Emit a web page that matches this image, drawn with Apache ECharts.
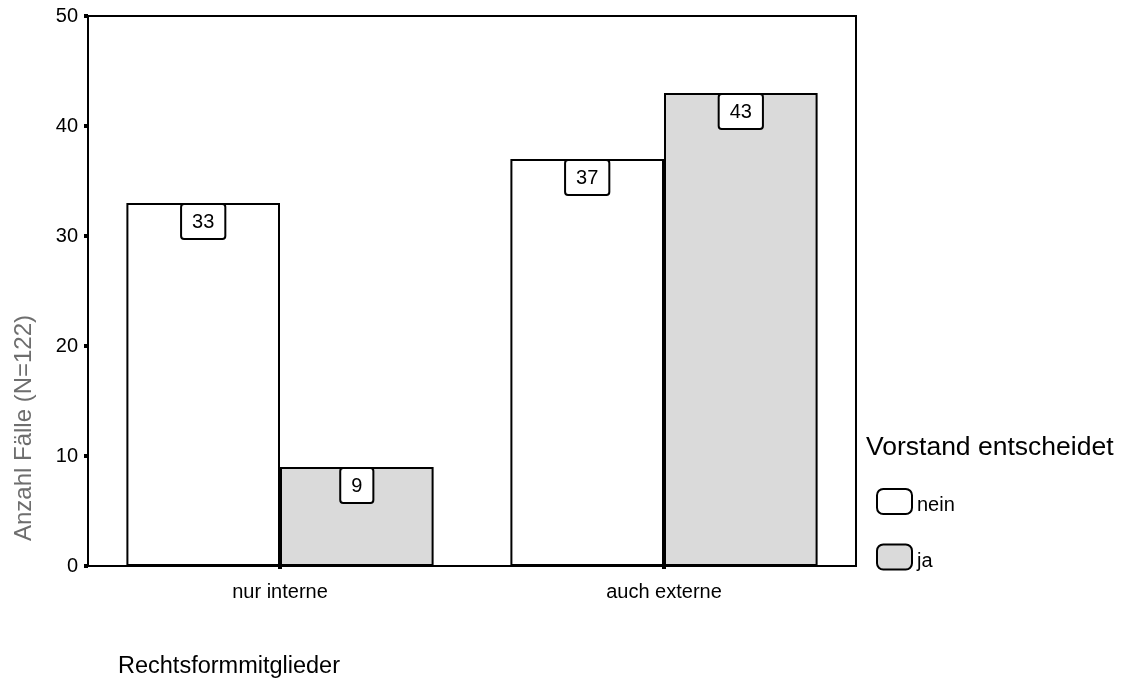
<!DOCTYPE html>
<html>
<head>
<meta charset="utf-8">
<script src="https://cdn.jsdelivr.net/npm/echarts@6/dist/echarts.min.js"></script>
<style>
  html, body { margin: 0; padding: 0; background: #fff; }
  #chart { width: 1124px; height: 679px; }
</style>
</head>
<body>
<div id="chart"></div>
<script>
// Rechtsformmitglieder × Vorstand entscheidet (counts)
const categories = ['nur interne', 'auch externe'];
const seriesNames = ['nein', 'ja'];
const neinValues = [33, 37];
const jaValues = [9, 43];
const yTicks = [0, 10, 20, 30, 40, 50];

const FONT = '"Liberation Sans", Arial, sans-serif';

const labelStyle = {
  show: true,
  position: 'insideTop',
  distance: 2,
  color: '#000',
  fontFamily: FONT,
  fontSize: 20,
  lineHeight: 22,
  backgroundColor: '#fff',
  borderColor: '#000',
  borderWidth: 2,
  borderRadius: 2,
  padding: [6, 10, 5, 10]
};

const chart = echarts.init(document.getElementById('chart'), null, { renderer: 'canvas' });

chart.setOption({
  animation: false,
  backgroundColor: '#fff',
  textStyle: { fontFamily: FONT },
  grid: {
    left: 88, right: 268, top: 16, bottom: 113,
    show: true, borderColor: '#000', borderWidth: 2, backgroundColor: 'transparent'
  },
  graphic: [
    {
      // value-axis title, rotated
      type: 'text', x: 24, y: 428, rotation: Math.PI / 2,
      style: {
        text: 'Anzahl Fälle (N=122)', font: '24px ' + FONT, fill: '#6e6e6e',
        textAlign: 'center', textVerticalAlign: 'middle'
      }
    },
    {
      type: 'text', left: 866, top: 434,
      style: { text: 'Vorstand entscheidet', font: '26.5px ' + FONT, fill: '#000' }
    },
    {
      type: 'text', left: 118, top: 655,
      style: { text: 'Rechtsformmitglieder', font: '23.5px ' + FONT, fill: '#000' }
    }
  ],
  legend: {
    orient: 'vertical',
    left: 871, top: 483,
    itemWidth: 35, itemHeight: 25, itemGap: 28,
    icon: 'roundRect',
    data: seriesNames,
    formatter: '{t|{name}}',
    textStyle: {
      fontFamily: FONT, fontSize: 20, color: '#000',
      rich: { t: { fontFamily: FONT, fontSize: 20, color: '#000', padding: [8, 0, 0, 0] } }
    },
    itemStyle: { borderColor: '#000', borderWidth: 2 }
  },
  xAxis: {
    type: 'category',
    data: categories,
    axisLine: { show: true, lineStyle: { color: '#000', width: 2 } },
    axisTick: { show: true, alignWithLabel: true, length: 3, lineStyle: { color: '#000', width: 4 } },
    axisLabel: { color: '#000', fontFamily: FONT, fontSize: 20, margin: 16 },
    splitLine: { show: false }
  },
  yAxis: {
    type: 'value',
    min: yTicks[0], max: yTicks[yTicks.length - 1], interval: 10,
    axisLine: { show: true, lineStyle: { color: '#000', width: 2 } },
    axisTick: { show: true, length: 4, lineStyle: { color: '#000', width: 4 } },
    axisLabel: { color: '#000', fontFamily: FONT, fontSize: 20, margin: 10 },
    splitLine: { show: false }
  },
  series: [
    {
      name: seriesNames[0], type: 'bar', data: neinValues,
      barGap: '0%', barCategoryGap: '20%',
      itemStyle: { color: '#ffffff', borderColor: '#000', borderWidth: 2 },
      label: labelStyle
    },
    {
      name: seriesNames[1], type: 'bar', data: jaValues,
      barGap: '0%', barCategoryGap: '20%',
      itemStyle: { color: '#dadada', borderColor: '#000', borderWidth: 2 },
      label: labelStyle
    }
  ]
});
</script>
</body>
</html>
